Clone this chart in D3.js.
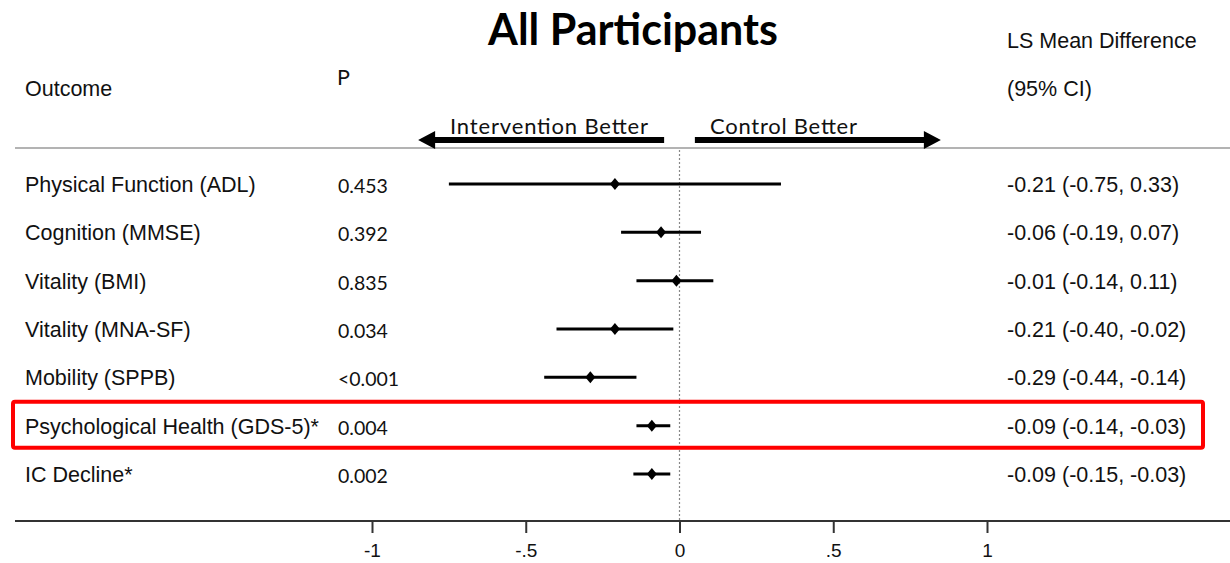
<!DOCTYPE html>
<html>
<head>
<meta charset="utf-8">
<script src="https://cdn.jsdelivr.net/npm/d3@7"></script>
<style>
  body { margin: 0; background: #fff; }
  svg { display: block; }
</style>
</head>
<body>
<svg id="chart"></svg>
<script>
"use strict";

// DATA
var outcomes = ["Physical Function (ADL)", "Cognition (MMSE)", "Vitality (BMI)", "Vitality (MNA-SF)",
                "Mobility (SPPB)", "Psychological Health (GDS-5)*", "IC Decline*"];
var pValues = ["0.453", "0.392", "0.835", "0.034", "<0.001", "0.004", "0.002"];
var estimates = [-0.21, -0.06, -0.01, -0.21, -0.29, -0.09, -0.09];
var lower = [-0.75, -0.19, -0.14, -0.40, -0.44, -0.14, -0.15];
var upper = [0.33, 0.07, 0.11, -0.02, -0.14, -0.03, -0.03];
var ciLabels = ["-0.21 (-0.75, 0.33)", "-0.06 (-0.19, 0.07)", "-0.01 (-0.14, 0.11)", "-0.21 (-0.40, -0.02)",
                "-0.29 (-0.44, -0.14)", "-0.09 (-0.14, -0.03)", "-0.09 (-0.15, -0.03)"];
var tickValues = [-1, -0.5, 0, 0.5, 1];
var tickLabels = ["-1", "-.5", "0", ".5", "1"];
var highlighted = "Psychological Health (GDS-5)*";

/*
*  DRAW
*/

var width = 1230, height = 563;
var arial = "Liberation Sans, Arial, sans-serif";
var calibri = "Lato, Open Sans, sans-serif";
var txtSize = "21.5px";

var svg = d3.select("#chart").attr("width", width).attr("height", height);

var x = d3.scaleLinear().domain([-1, 1]).range([372, 987]);
var y = d3.scalePoint().domain(outcomes).range([184, 474]);

var rows = outcomes.map(function (name, i) {
  return { name: name, p: pValues[i], est: estimates[i], lo: lower[i], hi: upper[i], ci: ciLabels[i] };
});

// TITLE + HEADERS
svg.append("text").attr("x", 633).attr("y", 45).attr("text-anchor", "middle")
  .style("font-family", calibri).style("font-weight", "bold").style("font-size", "43px")
  .text("All Participants");

function header(tx, ty, txt, fam) {
  svg.append("text").attr("x", tx).attr("y", ty)
    .style("font-family", fam || arial).style("font-size", txtSize).attr("fill", "#111").text(txt);
}
header(25, 96, "Outcome");
header(337, 85, "P", calibri);
header(1007, 48, "LS Mean Difference");
header(1007, 96, "(95% CI)");

// HEADER RULE
svg.append("line").attr("x1", 15).attr("x2", width).attr("y1", 148).attr("y2", 148)
  .attr("stroke", "#9a9a9a").attr("stroke-width", 1.5);

// DIRECTION ARROWS
var arrowY = 140;
function arrow(from, to) {
  var dir = to > from ? -1 : 1;
  var hx = to + dir * 17;
  return "M" + from + "," + (arrowY - 3) + "H" + hx + "V" + (arrowY - 9) + "L" + to + "," + arrowY +
         "L" + hx + "," + (arrowY + 9) + "V" + (arrowY + 3) + "H" + from + "Z";
}
svg.append("path").attr("d", arrow(x(-0.05), x(-0.85))).attr("fill", "#000");
svg.append("path").attr("d", arrow(x(0.05), x(0.85))).attr("fill", "#000");
svg.append("text").attr("x", 450).attr("y", 134).attr("textLength", 198)
  .style("font-family", calibri).style("font-size", "22px").attr("fill", "#111").text("Intervention Better");
svg.append("text").attr("x", 710).attr("y", 134).attr("textLength", 147)
  .style("font-family", calibri).style("font-size", "22px").attr("fill", "#111").text("Control Better");

// NULL LINE
svg.append("line").attr("x1", x(0)).attr("x2", x(0)).attr("y1", 150).attr("y2", 521)
  .attr("stroke", "#888").attr("stroke-width", 1.2).attr("stroke-dasharray", "2,2");

// ROWS
var g = svg.append("g").attr("class", "rows");
var row = g.selectAll(".row").data(rows).enter().append("g").attr("class", "row");

row.append("text").attr("x", 25).attr("y", function (d) { return y(d.name) + 8; })
  .style("font-family", arial).style("font-size", txtSize).attr("fill", "#111")
  .text(function (d) { return d.name; });

row.append("text").attr("x", 338).attr("y", function (d) { return y(d.name) + 9; })
  .style("font-family", calibri).style("font-size", "19.5px").attr("fill", "#111")
  .text(function (d) { return d.p; });

row.append("text").attr("x", 1007).attr("y", function (d) { return y(d.name) + 8; })
  .style("font-family", arial).style("font-size", txtSize).attr("fill", "#111")
  .text(function (d) { return d.ci; });

row.append("line")
  .attr("x1", function (d) { return x(d.lo); })
  .attr("x2", function (d) { return x(d.hi); })
  .attr("y1", function (d) { return y(d.name); })
  .attr("y2", function (d) { return y(d.name); })
  .attr("stroke", "#000").attr("stroke-width", 3);

row.append("path")
  .attr("transform", function (d) { return "translate(" + x(d.est) + "," + y(d.name) + ")"; })
  .attr("d", "M0,-6L5,0L0,6L-5,0Z")
  .attr("fill", "#000");

// HIGHLIGHT BOX
svg.append("rect").attr("x", 13).attr("y", y(highlighted) - 24).attr("width", 1190).attr("height", 46)
  .attr("rx", 2).attr("fill", "none").attr("stroke", "#f00").attr("stroke-width", 4);

// X AXIS
var axisG = svg.append("g").attr("transform", "translate(0,521)");
axisG.append("line").attr("x1", 15).attr("x2", width).attr("y1", 0).attr("y2", 0)
  .attr("stroke", "#333").attr("stroke-width", 2);
var xAxis = d3.axisBottom(x).tickValues(tickValues)
  .tickFormat(function (d, i) { return tickLabels[i]; })
  .tickSize(12).tickPadding(11);
axisG.call(xAxis);
axisG.select(".domain").remove();
axisG.selectAll(".tick line").attr("stroke", "#333").attr("stroke-width", 2);
axisG.selectAll(".tick text").style("font-family", arial).style("font-size", "19px").attr("fill", "#111");
</script>
</body>
</html>
